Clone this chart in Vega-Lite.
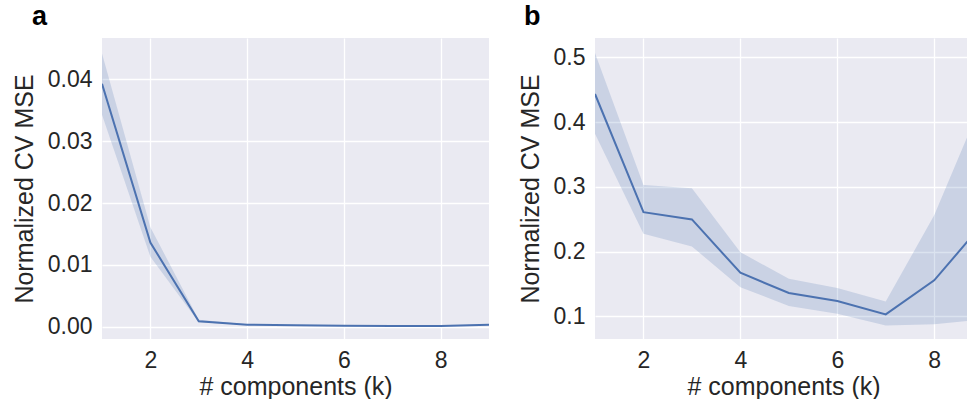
{
  "$schema": "https://vega.github.io/schema/vega-lite/v6.json",
  "background": "white",
  "padding": {"left": 12, "top": 3, "right": 0, "bottom": 0},
  "datasets": {
    "a": [
      {"k": 1, "mse": 0.0393, "lo": 0.0343, "hi": 0.0442},
      {"k": 2, "mse": 0.0136, "lo": 0.0113, "hi": 0.0161},
      {"k": 3, "mse": 0.00087, "lo": 0.0007, "hi": 0.0011},
      {"k": 4, "mse": 0.0003, "lo": 0.00025, "hi": 0.00038},
      {"k": 5, "mse": 0.00022, "lo": 0.00018, "hi": 0.00027},
      {"k": 6, "mse": 0.00015, "lo": 0.00012, "hi": 0.00019},
      {"k": 7, "mse": 0.00012, "lo": 0.0001, "hi": 0.00015},
      {"k": 8, "mse": 0.0001, "lo": 0.00008, "hi": 0.00013},
      {"k": 9, "mse": 0.0003, "lo": 0.00022, "hi": 0.0004}
    ],
    "b": [
      {"k": 1, "mse": 0.4435, "lo": 0.382, "hi": 0.507},
      {"k": 2, "mse": 0.261, "lo": 0.2275, "hi": 0.303},
      {"k": 3, "mse": 0.2497, "lo": 0.208, "hi": 0.298},
      {"k": 4, "mse": 0.1673, "lo": 0.145, "hi": 0.1992},
      {"k": 5, "mse": 0.136, "lo": 0.116, "hi": 0.158},
      {"k": 6, "mse": 0.1236, "lo": 0.104, "hi": 0.1437},
      {"k": 7, "mse": 0.103, "lo": 0.086, "hi": 0.123},
      {"k": 8, "mse": 0.1556, "lo": 0.0877, "hi": 0.256},
      {"k": 9, "mse": 0.243, "lo": 0.0955, "hi": 0.434}
    ]
  },
  "config": {
    "font": "Liberation Sans",
    "view": {"fill": "#EAEAF2", "stroke": null},
    "axis": {
      "domain": false,
      "ticks": false,
      "grid": true,
      "gridColor": "white",
      "gridWidth": 1.3,
      "labelFont": "Liberation Sans",
      "labelFontSize": 23,
      "labelColor": "#262626",
      "titleFont": "Liberation Sans",
      "titleFontSize": 25,
      "titleFontWeight": "normal",
      "titleColor": "#262626"
    },
    "axisX": {"labelPadding": 10, "titlePadding": 2},
    "axisY": {"labelPadding": 10, "titlePadding": 10},
    "title": {"fontSize": 27, "fontWeight": "bold", "color": "black", "anchor": "start", "frame": "group", "offset": 7}
  },
  "hconcat": [
    {
      "title": {"text": "a", "dx": -70},
      "width": 387,
      "height": 301,
      "data": {"name": "a"},
      "encoding": {
        "x": {"field": "k", "type": "quantitative", "scale": {"domain": [1, 9], "nice": false, "zero": false}, "axis": {"values": [2, 4, 6, 8], "title": "# components (k)"}}
      },
      "layer": [
        {
          "mark": {"type": "area", "color": "#4C72B0", "opacity": 0.2, "clip": true},
          "encoding": {
            "y": {"field": "lo", "type": "quantitative", "scale": {"domain": [-0.002, 0.0467], "nice": false, "zero": false}, "axis": {"values": [0, 0.01, 0.02, 0.03, 0.04], "format": ".2f", "title": "Normalized CV MSE"}},
            "y2": {"field": "hi"}
          }
        },
        {
          "mark": {"type": "line", "color": "#4C72B0", "strokeWidth": 2, "clip": true},
          "encoding": {
            "y": {"field": "mse", "type": "quantitative"}
          }
        }
      ]
    },
    {
      "title": {"text": "b", "dx": -71},
      "width": 377,
      "height": 301,
      "data": {"name": "b"},
      "encoding": {
        "x": {"field": "k", "type": "quantitative", "scale": {"domain": [1, 8.78], "nice": false, "zero": false}, "axis": {"values": [2, 4, 6, 8], "title": "# components (k)"}}
      },
      "layer": [
        {
          "mark": {"type": "area", "color": "#4C72B0", "opacity": 0.2, "clip": true},
          "encoding": {
            "y": {"field": "lo", "type": "quantitative", "scale": {"domain": [0.065, 0.53], "nice": false, "zero": false}, "axis": {"values": [0.1, 0.2, 0.3, 0.4, 0.5], "format": ".1f", "title": "Normalized CV MSE"}},
            "y2": {"field": "hi"}
          }
        },
        {
          "mark": {"type": "line", "color": "#4C72B0", "strokeWidth": 2, "clip": true},
          "encoding": {
            "y": {"field": "mse", "type": "quantitative"}
          }
        }
      ]
    }
  ],
  "spacing": 29
}
